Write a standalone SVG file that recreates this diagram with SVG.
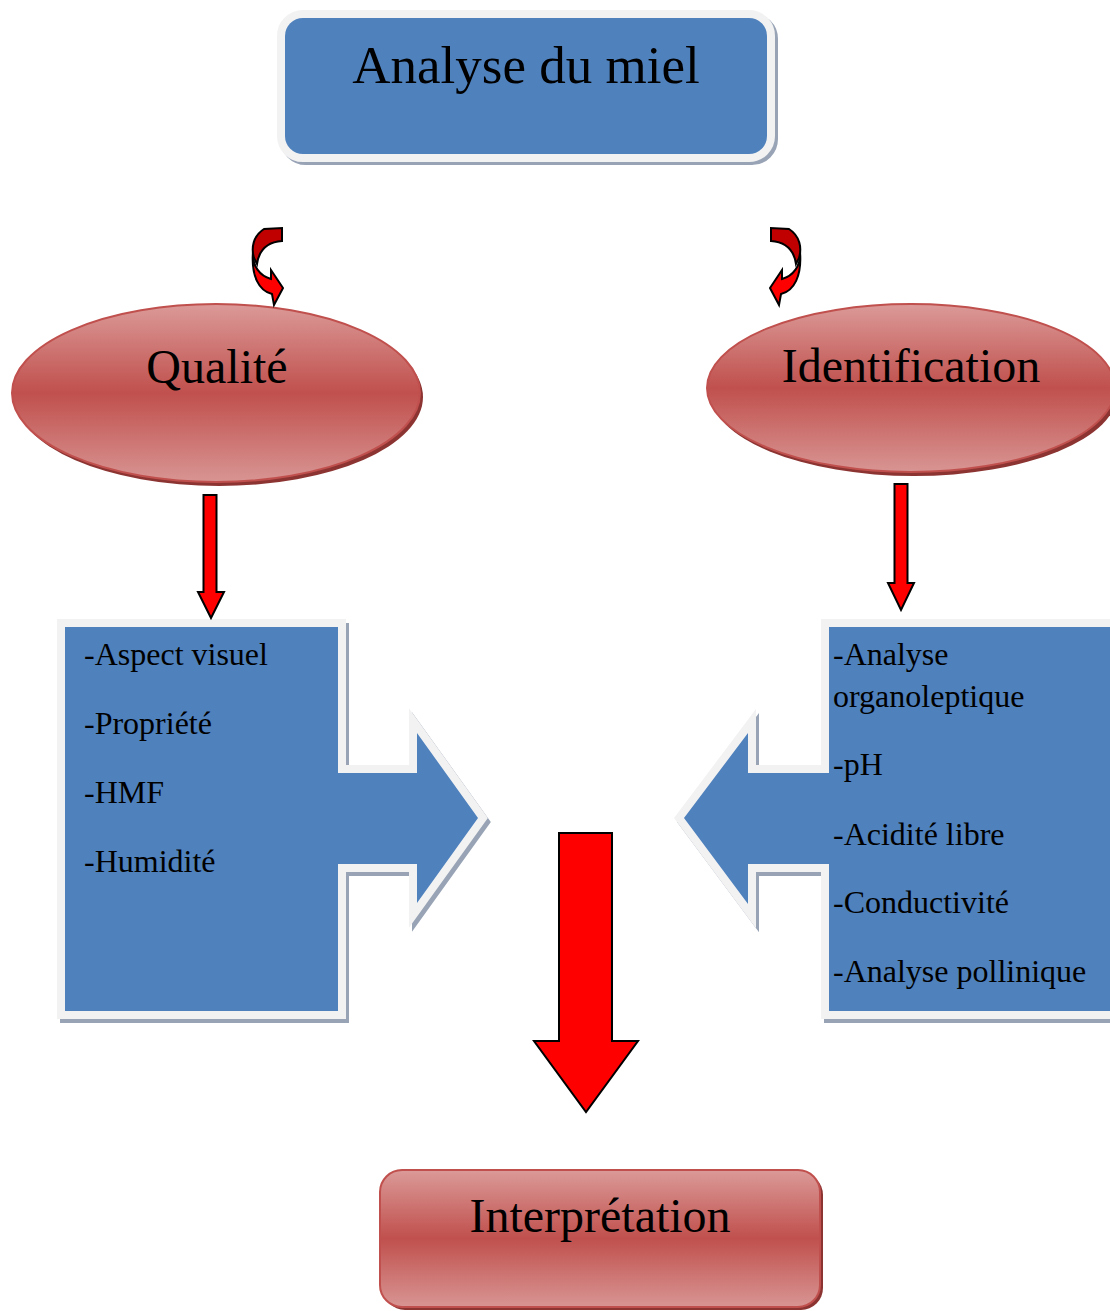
<svg xmlns="http://www.w3.org/2000/svg" width="1110" height="1311" viewBox="0 0 1110 1311">
<defs>
<linearGradient id="redGrad" x1="0" y1="0" x2="0" y2="1">
<stop offset="0" stop-color="#db9a98"/>
<stop offset="0.5" stop-color="#c0504d"/>
<stop offset="1" stop-color="#d89593"/>
</linearGradient>
<style>
.txt{font-family:"Liberation Serif","Times New Roman",serif;fill:#000}
.big{font-size:53px}
.mid{font-size:48px}
.lst{font-size:32px}
.blue{fill:#4f81bd}
.rim{fill:#f2f2f2;stroke:#f2f2f2;stroke-width:16;stroke-linejoin:miter}
.shd{fill:#98a4b6;stroke:#98a4b6;stroke-width:16;stroke-linejoin:miter}
.red{fill:url(#redGrad);stroke:#c0504d;stroke-width:2}
.redshd{fill:#8c3432}
.arr{fill:#ff0000;stroke:#000;stroke-width:2;stroke-linejoin:miter}
.arrd{fill:#c00000;stroke:#000;stroke-width:2;stroke-linejoin:miter}
</style>
</defs>
<rect width="1110" height="1311" fill="#fff"/>

<g id="node-analyse">
<rect class="shd" x="288" y="21" width="482" height="136" rx="18" transform="translate(0,0)"/>
<rect class="rim" x="285" y="18" width="482" height="136" rx="18"/>
<rect class="blue" x="285" y="18" width="482" height="136" rx="18"/>
<text class="txt big" x="526" y="83" text-anchor="middle">Analyse du miel</text>
</g>

<g id="node-qualite">
<ellipse class="redshd" cx="219" cy="397" rx="204" ry="89"/>
<ellipse class="red" cx="216" cy="393" rx="204" ry="89"/>
<text class="txt mid" x="217" y="383" text-anchor="middle">Qualité</text>
</g>

<g id="node-identification">
<ellipse class="redshd" cx="914" cy="392" rx="204" ry="84"/>
<ellipse class="red" cx="911" cy="388" rx="204" ry="84"/>
<text class="txt mid" x="911" y="382" text-anchor="middle">Identification</text>
</g>

<g id="node-liste-qualite">
<path class="shd" transform="translate(3,4)" d="M65,627 H338 V773 H417 V733 L478,818 L417,903 V864 H338 V1011 H65 Z"/>
<path class="rim" d="M65,627 H338 V773 H417 V733 L478,818 L417,903 V864 H338 V1011 H65 Z"/>
<path class="blue" d="M65,627 H338 V773 H417 V733 L478,818 L417,903 V864 H338 V1011 H65 Z"/>
<text class="txt lst" x="84" y="665">-Aspect visuel</text>
<text class="txt lst" x="84" y="734">-Propriété</text>
<text class="txt lst" x="84" y="803">-HMF</text>
<text class="txt lst" x="84" y="872">-Humidité</text>
</g>

<g id="node-liste-identification">
<path class="shd" transform="translate(3,4)" d="M829,627 H1130 V1011 H829 V864 H748 V904 L684,818 L748,733 V773 H829 Z"/>
<path class="rim" d="M829,627 H1130 V1011 H829 V864 H748 V904 L684,818 L748,733 V773 H829 Z"/>
<path class="blue" d="M829,627 H1130 V1011 H829 V864 H748 V904 L684,818 L748,733 V773 H829 Z"/>
<text class="txt lst" x="833" y="665">-Analyse</text>
<text class="txt lst" x="833" y="707">organoleptique</text>
<text class="txt lst" x="833" y="775">-pH</text>
<text class="txt lst" x="833" y="845">-Acidité libre</text>
<text class="txt lst" x="833" y="913">-Conductivité</text>
<text class="txt lst" x="833" y="982">-Analyse pollinique</text>
</g>

<g id="node-interpretation">
<rect class="redshd" x="383" y="1173" width="440" height="137" rx="22"/>
<rect class="red" x="380" y="1170" width="440" height="137" rx="22"/>
<text class="txt mid" x="600" y="1232" text-anchor="middle">Interprétation</text>
</g>

<g id="connectors">
<g id="curve-left">
<path class="arr" d="M253,252 C252,266 260,276 271,279 L271,270 L283,288 L274,305 L272,294 C259,291 251,276 253,252 Z"/>
<path class="arrd" d="M282,228 L282,241 C268,242 259,250 257,264 L254,258 C251,248 253,236 264,229 Z"/>
</g>
<g id="curve-right" transform="translate(1053,0) scale(-1,1)">
<path class="arr" d="M253,252 C252,266 260,276 271,279 L271,270 L283,288 L274,305 L272,294 C259,291 251,276 253,252 Z"/>
<path class="arrd" d="M282,228 L282,241 C268,242 259,250 257,264 L254,258 C251,248 253,236 264,229 Z"/>
</g>
<path class="arr" d="M203.5,495 H216.5 V592 H224 L211,618 L198,592 H203.5 Z"/>
<path class="arr" d="M894.5,484 H907.5 V583 H914 L901,610 L888,583 H894.5 Z"/>
<path class="arr" d="M559,833 H612 V1041 H638 L586,1112 L534,1041 H559 Z"/>
</g>
</svg>
